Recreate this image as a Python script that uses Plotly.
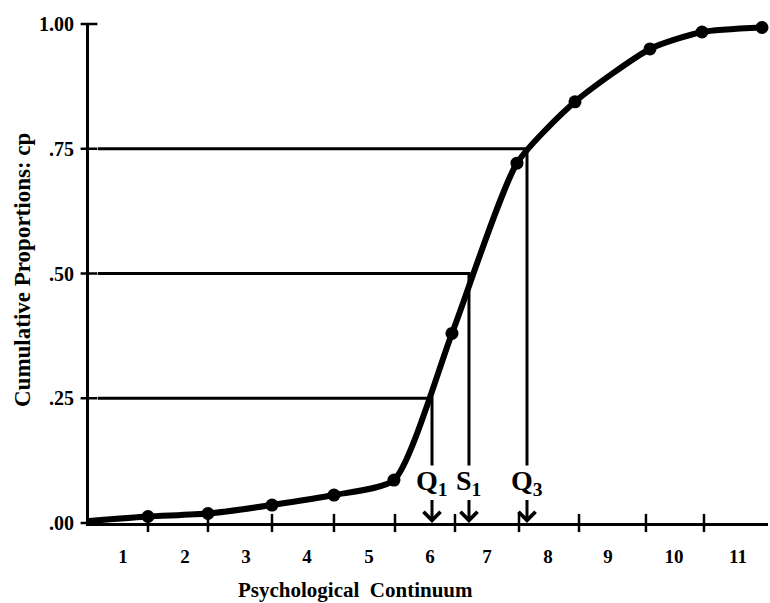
import plotly.graph_objects as go

# ---- data ----
# psychological continuum position (scale units) of each plotted point and its cumulative proportion
point_x = [0.0, 0.983, 1.983, 3.05, 4.083, 5.083, 6.05, 7.133, 8.1, 9.35, 10.217, 11.217]
point_cp = [0.004, 0.013, 0.019, 0.036, 0.056, 0.086, 0.380, 0.721, 0.844, 0.950, 0.984, 0.993]
marker_flags = [False] + [True] * 11

# category boundaries on the continuum (tick marks on x axis)
boundaries = [0.983, 1.983, 3.05, 4.083, 5.1, 6.1, 7.167, 8.167, 9.283, 10.25]
# category labels and their positions
category_labels = ["1", "2", "3", "4", "5", "6", "7", "8", "9", "10", "11"]
category_pos = [0.567, 1.6, 2.617, 3.633, 4.667, 5.683, 6.633, 7.65, 8.65, 9.75, 10.817]

# y ticks
y_ticks = [0.0, 0.25, 0.50, 0.75, 1.00]
y_tick_labels = [".00", ".25", ".50", ".75", "1.00"]

# quartile / median reading
q_names = ["Q<sub>1</sub>", "S<sub>1</sub>", "Q<sub>3</sub>"]
q_levels = [0.25, 0.50, 0.75]
q_values = [5.717, 6.333, 7.30]

X_MAX = 11.317
FONT = "Liberation Serif"

fig = go.Figure()

# horizontal and vertical reading lines
for lvl, qv in zip(q_levels, q_values):
    fig.add_trace(go.Scatter(x=[0.15, qv, qv], y=[lvl, lvl, 0.115], mode="lines",
                             line=dict(color="black", width=3), hoverinfo="skip",
                             showlegend=False))

# curve
fig.add_trace(go.Scatter(x=point_x, y=point_cp, mode="lines",
                         line=dict(color="black", width=6, shape="spline", smoothing=0.6),
                         showlegend=False, cliponaxis=False))
fig.add_trace(go.Scatter(x=[x for x, m in zip(point_x, marker_flags) if m],
                         y=[y for y, m in zip(point_cp, marker_flags) if m],
                         mode="markers", marker=dict(color="black", size=13),
                         showlegend=False, cliponaxis=False))

# boundary ticks crossing x axis
fig.add_trace(go.Scatter(x=boundaries, y=[0] * len(boundaries), mode="markers",
                         marker=dict(symbol="line-ns", size=13, line=dict(color="black", width=2.5)),
                         showlegend=False, cliponaxis=False, hoverinfo="skip"))
# y ticks crossing y axis
fig.add_trace(go.Scatter(x=[0] * len(y_ticks), y=y_ticks, mode="markers",
                         marker=dict(symbol="line-ew", size=12, line=dict(color="black", width=2.5)),
                         showlegend=False, cliponaxis=False, hoverinfo="skip"))

annotations = []
for name, qv in zip(q_names, q_values):
    # label sits at the arrow tail; arrow points down to the continuum
    annotations.append(dict(x=qv, y=0, ax=0, ay=-41, text=name, showarrow=True,
                            arrowhead=4, arrowsize=1.1, arrowwidth=3, arrowcolor="black",
                            standoff=0, borderpad=0,
                            font=dict(family=FONT, size=28, color="black", weight="bold")))

annotations.append(dict(xref="paper", yref="paper", x=0, y=0.507, xshift=-67,
                        text="Cumulative Proportions: cp", textangle=-90, showarrow=False,
                        xanchor="center", yanchor="middle",
                        font=dict(family=FONT, size=23, color="black", weight="bold")))
annotations.append(dict(xref="paper", yref="paper", x=0.392, y=-0.134,
                        text="Psychological  Continuum", showarrow=False,
                        xanchor="center", yanchor="middle",
                        font=dict(family=FONT, size=21, color="black", weight="bold")))

fig.update_layout(
    width=770, height=603,
    margin=dict(l=89, r=2, t=24, b=80, autoexpand=False),
    plot_bgcolor="white", paper_bgcolor="white",
    annotations=annotations,
    xaxis=dict(range=[0, X_MAX], showgrid=False, zeroline=False, showline=True,
               automargin=False,
               linecolor="black", linewidth=3, tickvals=category_pos, ticktext=category_labels,
               ticks="", ticklabelstandoff=14,
               tickfont=dict(family=FONT, size=19, color="black", weight="bold")),
    yaxis=dict(range=[0, 1.0], showgrid=False, zeroline=False, showline=True,
               automargin=False,
               linecolor="black", linewidth=3, tickvals=y_ticks, ticktext=y_tick_labels,
               ticks="", ticklabelstandoff=8,
               tickfont=dict(family=FONT, size=20, color="black", weight="bold")),
)

fig.write_html("out.html", config={"displayModeBar": False},
               post_script="document.body.style.margin='0px';document.body.style.overflow='hidden';")
